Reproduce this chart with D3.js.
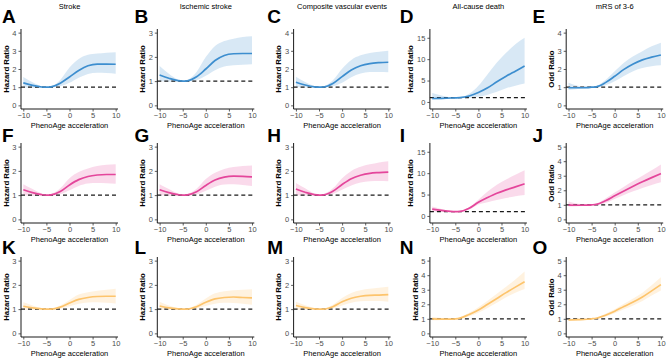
<!DOCTYPE html>
<html><head><meta charset="utf-8">
<script src="https://cdn.jsdelivr.net/npm/d3@7/dist/d3.min.js"></script>
<style>body{margin:0;background:#fff}svg{display:block;font-family:"Liberation Sans",Arial,sans-serif}</style>
</head><body><svg id="c" width="669" height="360"></svg>
<script>
// ---- data ----
const xs = [-10, -8, -6, -5, -4, -2, 0, 2, 4, 6, 8, 10];
const colTitles = ["Stroke", "Ischemic stroke", "Composite vascular events", "All-cause death", "mRS of 3-6"];
const letters = ["A","B","C","D","E","F","G","H","I","J","K","L","M","N","O"];
const yTitles = ["Hazard Ratio", "Hazard Ratio", "Hazard Ratio", "Hazard Ratio", "Odd Ratio"];
const xTitle = "PhenoAge acceleration";
const xTicks = [-10, -5, 0, 5, 10];
const yMax = [4, 3, 4, 15, 4,  3, 3, 3, 15, 5,  3, 3, 3, 5, 5];
const yStep = [1, 1, 1, 5, 1,  1, 1, 1, 5, 1,  1, 1, 1, 1, 1];
const yHigh = [4, 3, 4, 16.2, 4,  3, 3, 3, 16.2, 5,  3, 3, 3, 5, 5];
const yLow  = [0, 0, 0, -0.8, 0,  0, 0, 0, -0.8, 0,  0, 0, 0, 0, 0];
const colors = ["#3d8ecf", "#e4469b", "#fdc46c"];

const A_est = [1.24,1.10,1.01,1.0,1.02,1.22,1.56,1.92,2.18,2.27,2.27,2.26];
const A_lo  = [1.00,0.97,0.98,1.0,0.99,1.05,1.24,1.52,1.73,1.80,1.78,1.74];
const A_hi  = [1.56,1.27,1.05,1.0,1.05,1.40,2.08,2.55,2.78,2.85,2.90,2.92];
const B_est = [1.25,1.12,1.02,1.0,1.01,1.18,1.50,1.85,2.06,2.13,2.14,2.14];
const B_lo  = [1.00,0.97,0.98,1.0,0.99,1.04,1.22,1.45,1.60,1.65,1.68,1.70];
const B_hi  = [1.62,1.30,1.06,1.0,1.05,1.38,1.99,2.45,2.65,2.75,2.82,2.85];
const C_est = [1.27,1.12,1.02,1.0,1.01,1.20,1.58,1.95,2.18,2.30,2.35,2.37];
const C_lo  = [1.02,0.98,0.98,1.0,0.99,1.05,1.25,1.55,1.75,1.83,1.84,1.82];
const C_hi  = [1.58,1.28,1.06,1.0,1.04,1.38,2.02,2.50,2.75,2.88,2.95,3.00];
const D_est = [0.80,0.85,0.92,0.95,1.00,1.40,2.20,3.30,4.70,6.00,7.20,8.40];
const D_lo  = [0.50,0.60,0.75,0.85,0.90,1.00,1.20,1.70,2.40,3.20,3.80,4.30];
const D_hi  = [2.10,1.50,1.10,1.10,1.15,1.90,3.80,6.50,9.20,11.5,13.5,15.0];
const E_est = [0.97,0.97,0.98,1.0,1.02,1.25,1.60,1.98,2.28,2.50,2.65,2.77];
const E_lo  = [0.85,0.90,0.95,1.0,0.99,1.10,1.32,1.62,1.88,2.05,2.15,2.20];
const E_hi  = [1.25,1.08,1.02,1.0,1.06,1.40,1.88,2.35,2.70,2.98,3.25,3.45];
const F_est = [1.22,1.10,1.02,1.0,1.01,1.15,1.42,1.64,1.77,1.83,1.85,1.85];
const F_lo  = [1.00,0.97,0.98,1.0,0.99,1.04,1.20,1.38,1.48,1.50,1.49,1.47];
const F_hi  = [1.45,1.25,1.06,1.0,1.04,1.28,1.70,1.95,2.10,2.20,2.25,2.27];
const G_est = [1.22,1.10,1.02,1.0,1.01,1.14,1.40,1.62,1.74,1.78,1.77,1.75];
const G_lo  = [1.00,0.97,0.98,1.0,0.99,1.03,1.18,1.35,1.44,1.45,1.42,1.38];
const G_hi  = [1.45,1.25,1.06,1.0,1.04,1.26,1.66,1.92,2.08,2.16,2.20,2.22];
const H_est = [1.25,1.12,1.02,1.0,1.01,1.16,1.44,1.68,1.82,1.90,1.93,1.95];
const H_lo  = [1.02,0.98,0.98,1.0,0.99,1.05,1.22,1.40,1.52,1.57,1.58,1.57];
const H_hi  = [1.50,1.28,1.06,1.0,1.04,1.28,1.70,2.00,2.17,2.27,2.35,2.40];
const I_est = [1.60,1.30,1.05,1.0,1.05,1.80,3.20,4.30,5.30,6.10,6.80,7.50];
const I_lo  = [1.10,1.00,0.90,0.9,0.95,1.50,2.70,3.20,3.70,4.20,4.60,4.90];
const I_hi  = [2.20,1.60,1.15,1.1,1.15,2.10,3.80,5.70,7.30,8.50,9.60,10.7];
const J_est = [0.98,0.97,0.98,1.0,1.03,1.28,1.62,1.95,2.27,2.58,2.87,3.15];
const J_lo  = [0.88,0.90,0.95,1.0,0.99,1.12,1.40,1.67,1.93,2.16,2.37,2.55];
const J_hi  = [1.22,1.08,1.02,1.0,1.07,1.44,1.84,2.25,2.63,3.00,3.38,3.78];
const K_est = [1.12,1.05,1.01,1.0,1.00,1.08,1.25,1.40,1.48,1.52,1.53,1.53];
const K_lo  = [0.97,0.97,0.98,1.0,0.99,1.02,1.12,1.22,1.27,1.28,1.26,1.23];
const K_hi  = [1.28,1.15,1.04,1.0,1.02,1.15,1.38,1.60,1.70,1.76,1.80,1.84];
const L_est = [1.13,1.05,1.01,1.0,1.00,1.10,1.28,1.42,1.48,1.50,1.48,1.46];
const L_lo  = [0.97,0.97,0.98,1.0,0.99,1.03,1.13,1.22,1.26,1.25,1.22,1.18];
const L_hi  = [1.30,1.15,1.04,1.0,1.02,1.18,1.44,1.65,1.74,1.78,1.80,1.82];
const M_est = [1.15,1.06,1.01,1.0,1.00,1.10,1.30,1.45,1.53,1.57,1.58,1.60];
const M_lo  = [0.98,0.97,0.98,1.0,0.99,1.03,1.15,1.26,1.32,1.34,1.33,1.30];
const M_hi  = [1.30,1.16,1.04,1.0,1.02,1.18,1.46,1.67,1.78,1.84,1.88,1.92];
const N_est = [1.00,0.98,0.98,1.0,1.05,1.30,1.60,2.00,2.40,2.80,3.18,3.55];
const N_lo  = [0.90,0.92,0.95,1.0,1.00,1.18,1.42,1.75,2.10,2.48,2.80,3.05];
const N_hi  = [1.12,1.05,1.02,1.0,1.10,1.42,1.80,2.25,2.72,3.20,3.70,4.25];
const O_est = [0.92,0.94,0.97,1.0,1.04,1.25,1.52,1.85,2.15,2.50,2.92,3.35];
const O_lo  = [0.85,0.88,0.94,0.98,1.00,1.15,1.38,1.65,1.92,2.22,2.60,2.95];
const O_hi  = [1.00,1.00,1.00,1.02,1.08,1.35,1.66,2.04,2.40,2.80,3.30,3.85];

const series = [
  [A_est,A_lo,A_hi],[B_est,B_lo,B_hi],[C_est,C_lo,C_hi],[D_est,D_lo,D_hi],[E_est,E_lo,E_hi],
  [F_est,F_lo,F_hi],[G_est,G_lo,G_hi],[H_est,H_lo,H_hi],[I_est,I_lo,I_hi],[J_est,J_lo,J_hi],
  [K_est,K_lo,K_hi],[L_est,L_lo,L_hi],[M_est,M_lo,M_hi],[N_est,N_lo,N_hi],[O_est,O_lo,O_hi]
];

// ---- layout ----
const svg = d3.select("#c");
const rowTop = [29, 143, 257];
const letterBase = [23, 142, 254];
const panelH = 80, panelW = 97;
const colLeft = i => 21 + i * 136.3;
const letterX = i => 2 + i * 132.6;
const tickCol = "#4d4d4d";
const ribbonOpacity = [0.2, 0.2, 0.22];

for (let r = 0; r < 3; r++) {
  for (let c = 0; c < 5; c++) {
    const k = r * 5 + c;
    const left = colLeft(c), top = rowTop[r];
    const x = d3.scaleLinear().domain([-10.5, 10.5]).range([left, left + panelW]);
    const span = yHigh[k] - yLow[k];
    const y = d3.scaleLinear().domain([yLow[k] - 0.05 * span, yHigh[k] + 0.05 * span]).range([top + panelH, top]);
    const [est, lo, hi] = series[k];
    const pts = xs.map((v, i) => ({x: v, e: est[i], l: lo[i], h: hi[i]}));
    const g = svg.append("g");

    g.append("path").datum(pts)
      .attr("d", d3.area().curve(d3.curveMonotoneX).x(d => x(d.x)).y0(d => y(d.l)).y1(d => y(d.h)))
      .attr("fill", colors[r]).attr("fill-opacity", ribbonOpacity[r]);

    g.append("line").attr("x1", left).attr("x2", left + panelW)
      .attr("y1", y(1)).attr("y2", y(1))
      .attr("stroke", "#1a1a1a").attr("stroke-width", 1.15).attr("stroke-dasharray", "4,3");

    g.append("path").datum(pts)
      .attr("d", d3.line().curve(d3.curveMonotoneX).x(d => x(d.x)).y(d => y(d.e)))
      .attr("fill", "none").attr("stroke", colors[r]).attr("stroke-width", 1.7);

    // axes
    const yt = d3.range(0, yMax[k] + 0.001, yStep[k]);
    const ya = g.append("g").attr("transform", `translate(${left},0)`)
      .call(d3.axisLeft(y).tickValues(yt).tickSize(2.5).tickPadding(2).tickFormat(d3.format("d")));
    const xa = g.append("g").attr("transform", `translate(0,${top + panelH})`)
      .call(d3.axisBottom(x).tickValues(xTicks).tickSize(2.5).tickPadding(1.5)
        .tickFormat(d => d < 0 ? "\u2212" + Math.abs(d) : String(d)));
    [ya, xa].forEach(a => {
      a.select(".domain").attr("stroke", "#000").attr("stroke-width", 0.9)
        .attr("d", a === ya ? `M0,${top + panelH}V${top}` : `M${left},0H${left + panelW}`);
      a.selectAll(".tick line").attr("stroke", "#333").attr("stroke-width", 0.8);
      a.selectAll(".tick text").attr("fill", tickCol).style("font-size", "7.5px")
        .style("font-family", "'Liberation Sans', Arial, sans-serif");
    });

    // y title
    const twoDigit = yMax[k] >= 10;
    const ytx = left - (twoDigit ? 20 : 15);
    g.append("text").attr("transform", `translate(${ytx},${top + panelH / 2}) rotate(-90)`)
      .attr("text-anchor", "middle").attr("dy", "0.35em")
      .style("font-size", "7.8px").style("font-weight", "bold").attr("fill", "#000")
      .text(yTitles[c]);

    // x title
    g.append("text").attr("x", left + panelW / 2).attr("y", top + panelH + 19)
      .attr("text-anchor", "middle").style("font-size", "7.5px").attr("fill", "#000")
      .text(xTitle);

    // column title
    if (r === 0) {
      g.append("text").attr("x", left + panelW / 2).attr("y", 8.5)
        .attr("text-anchor", "middle").style("font-size", "7.5px").attr("fill", "#000")
        .text(colTitles[c]);
    }

    // panel letter
    g.append("text").attr("x", letterX(c)).attr("y", letterBase[r])
      .style("font-size", "19px").style("font-weight", "bold").attr("fill", "#000")
      .text(letters[k]);
  }
}
</script></body></html>
